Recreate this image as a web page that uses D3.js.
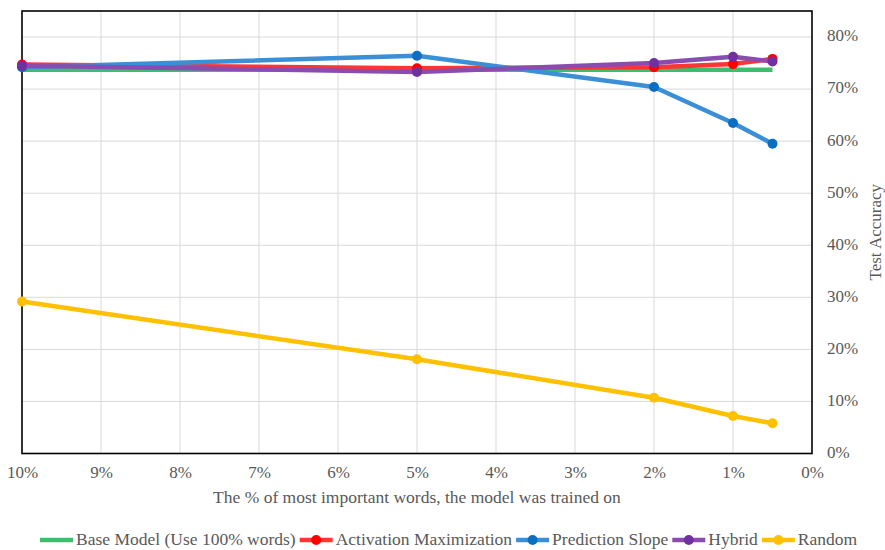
<!DOCTYPE html>
<html><head><meta charset="utf-8">
<script src="https://cdn.jsdelivr.net/npm/d3@7"></script>
<style>body{margin:0;background:#fff}svg{display:block}
svg text{font-family:"Liberation Serif","Times New Roman",Times,"DejaVu Serif",serif;}</style>
</head><body>
<svg id="c" width="885" height="550"></svg>
<script>
const xValues = [10, 5, 2, 1, 0.5];
const seriesNames = ["Base Model (Use 100% words)", "Activation Maximization", "Prediction Slope", "Hybrid", "Random"];
const baseModel = [73.7, 73.7, 73.7, 73.7, 73.7];
const activationMax = [74.7, 74.0, 74.2, 74.8, 75.8];
const predictionSlope = [74.2, 76.4, 70.4, 63.5, 59.5];
const hybrid = [74.5, 73.3, 75.0, 76.2, 75.3];
const randomSel = [29.2, 18.1, 10.7, 7.2, 5.8];
const xTicks = [10, 9, 8, 7, 6, 5, 4, 3, 2, 1, 0];
const yTicks = [0, 10, 20, 30, 40, 50, 60, 70, 80];

const series = [
  {name: seriesNames[0], values: baseModel, line: "#3bbf6f", marker: null},
  {name: seriesNames[1], values: activationMax, line: "#ff3535", marker: "#ff0000"},
  {name: seriesNames[2], values: predictionSlope, line: "#3a8fd6", marker: "#0a6fc2"},
  {name: seriesNames[3], values: hybrid, line: "#8a4cb0", marker: "#7030a0"},
  {name: seriesNames[4], values: randomSel, line: "#ffc000", marker: "#ffc000"}
];

const svg = d3.select("#c");
const L = 22, R = 812, T = 11, B = 453.5;
const x = d3.scaleLinear().domain([10, 0]).range([L, R]);
const y = d3.scaleLinear().domain([0, 85]).range([B, T]);
const txt = "#595959";
const serif = '"Liberation Serif","Times New Roman",Times,serif';
const fs = 17;
const fsL = 17.5;

// grid
svg.append("g").selectAll("line").data(yTicks.filter(d => d > 0)).join("line")
  .attr("x1", L).attr("x2", R).attr("y1", d => y(d)).attr("y2", d => y(d))
  .attr("stroke", "#d9d9d9").attr("stroke-width", 1);
svg.append("g").selectAll("line").data(xTicks.filter(d => d > 0 && d < 10)).join("line")
  .attr("y1", T).attr("y2", B).attr("x1", d => x(d)).attr("x2", d => x(d))
  .attr("stroke", "#d9d9d9").attr("stroke-width", 1);

// border
svg.append("rect").attr("x", L).attr("y", T).attr("width", R - L).attr("height", B - T)
  .attr("fill", "none").attr("stroke", "#000").attr("stroke-width", 1.6);

// axes labels
const xAxis = d3.axisBottom(x).tickValues(xTicks).tickFormat(d => d + "%").tickSize(0).tickPadding(0);
const gx = svg.append("g").attr("transform", `translate(0,${B})`).call(xAxis);
gx.select(".domain").remove();
gx.attr("font-family", serif).attr("font-size", fs);
gx.selectAll("text").attr("y", 21).attr("dy", null).attr("dominant-baseline", "middle")
  .style("font-family", serif).style("font-size", fs + "px").attr("fill", txt);

const yAxis = d3.axisRight(y).tickValues(yTicks).tickFormat(d => d + "%").tickSize(0).tickPadding(0);
const gy = svg.append("g").attr("transform", `translate(${R},0)`).call(yAxis);
gy.select(".domain").remove();
gy.attr("font-family", serif).attr("font-size", fs);
gy.selectAll("text").attr("x", 15).attr("dy", null).attr("dominant-baseline", "middle")
  .attr("text-anchor", "start")
  .style("font-family", serif).style("font-size", fs + "px").attr("fill", txt);

svg.append("text").attr("x", (L + R) / 2).attr("y", 499).attr("text-anchor", "middle")
  .attr("dominant-baseline", "middle")
  .attr("font-size", fsL).attr("fill", txt)
  .text("The % of most important words, the model was trained on");
svg.append("text").attr("transform", `translate(877,${(T + B) / 2}) rotate(-90)`)
  .attr("text-anchor", "middle").attr("dominant-baseline", "middle")
  .attr("font-size", fs).attr("fill", txt)
  .text("Test Accuracy");

// lines
const line = d3.line().x((d, i) => x(xValues[i])).y(d => y(d));
series.forEach(s => {
  svg.append("path").datum(s.values).attr("d", line).attr("fill", "none")
    .attr("stroke", s.line).attr("stroke-width", 4.5).attr("stroke-linejoin", "round");
  if (s.marker) {
    svg.append("g").selectAll("circle").data(s.values).join("circle")
      .attr("cx", (d, i) => x(xValues[i])).attr("cy", d => y(d)).attr("r", 5)
      .attr("fill", s.marker);
  }
});

// legend
const leg = svg.append("g");
let lx = 40;
const ly = 540;
series.forEach(s => {
  leg.append("line").attr("x1", lx).attr("x2", lx + 33).attr("y1", ly).attr("y2", ly)
    .attr("stroke", s.line).attr("stroke-width", 4.5);
  if (s.marker) leg.append("circle").attr("cx", lx + 16.5).attr("cy", ly).attr("r", 5).attr("fill", s.marker);
  const t = leg.append("text").attr("x", lx + 36).attr("y", ly + 1).attr("dominant-baseline", "middle")
    .attr("font-size", fsL).attr("fill", txt).text(s.name);
  lx += 36 + t.node().getComputedTextLength() + 4;
});
</script>
</body></html>
